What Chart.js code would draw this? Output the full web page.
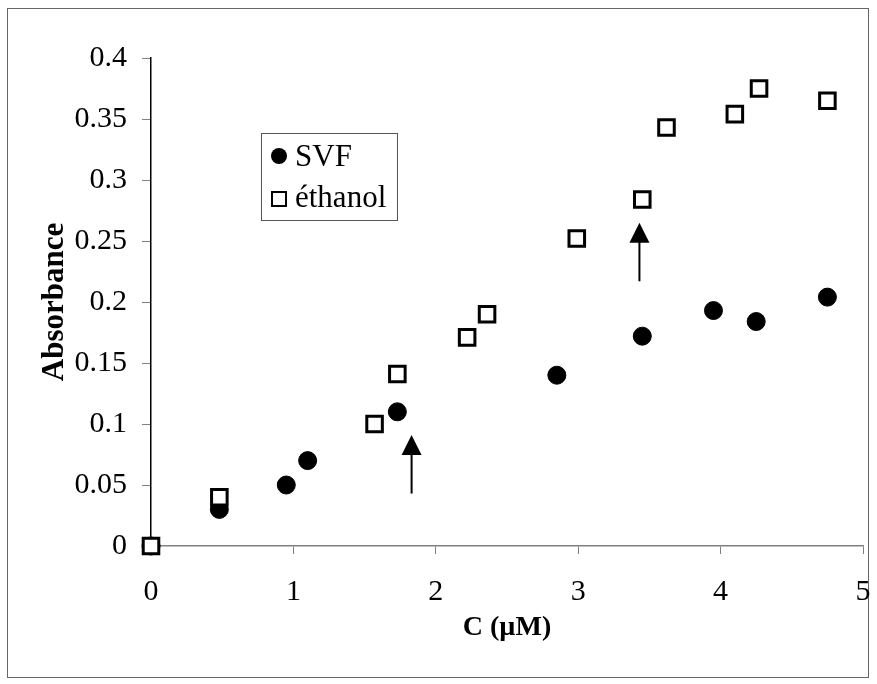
<!DOCTYPE html>
<html>
<head>
<meta charset="utf-8">
<script src="https://cdn.jsdelivr.net/npm/chart.js@4"></script>
<style>
  body { margin: 0; background: #fff; }
</style>
</head>
<body>
<canvas id="chart" width="877" height="684"></canvas>
<script>
// SVF (filled circles)
var svfX = [0, 0.48, 0.95, 1.1, 1.73, 2.85, 3.45, 3.95, 4.25, 4.75];
var svfY = [0, 0.03, 0.05, 0.07, 0.11, 0.14, 0.172, 0.193, 0.184, 0.204];
// ethanol (open squares)
var ethX = [0, 0.48, 1.57, 1.73, 2.22, 2.36, 2.99, 3.45, 3.62, 4.1, 4.27, 4.75];
var ethY = [0, 0.04, 0.1, 0.141, 0.171, 0.19, 0.252, 0.284, 0.343, 0.354, 0.375, 0.365];

var xTicks = ['0', '1', '2', '3', '4', '5'];
var yTicks = ['0', '0.05', '0.1', '0.15', '0.2', '0.25', '0.3', '0.35', '0.4'];

// arrows: x position, tail y, tip y
var arrowX = [1.83, 3.43];
var arrowFrom = [0.043, 0.217];
var arrowTo = [0.091, 0.265];

var legendNames = ['SVF', 'éthanol'];

function toPoints(xs, ys) {
  return xs.map(function (x, i) { return { x: x, y: ys[i] }; });
}

var serif = '"Liberation Serif", "Times New Roman", serif';

// frame round the whole picture
var framePlugin = {
  id: 'frame',
  beforeDraw: function (chart) {
    var c = chart.ctx;
    c.save();
    c.fillStyle = '#fff';
    c.fillRect(0, 0, chart.width, chart.height);
    c.strokeStyle = '#666';
    c.lineWidth = 1;
    c.strokeRect(7.5, 8.5, chart.width - 16, chart.height - 15);
    c.restore();
  }
};

var arrowPlugin = {
  id: 'arrows',
  afterDatasetsDraw: function (chart) {
    var c = chart.ctx, xs = chart.scales.x, ys = chart.scales.y;
    c.save();
    c.strokeStyle = '#000';
    c.fillStyle = '#000';
    c.lineWidth = 2;
    for (var i = 0; i < arrowX.length; i++) {
      var px = xs.getPixelForValue(arrowX[i]);
      var y0 = ys.getPixelForValue(arrowFrom[i]);
      var y1 = ys.getPixelForValue(arrowTo[i]);
      c.beginPath();
      c.moveTo(px, y0);
      c.lineTo(px, y1 + 18);
      c.stroke();
      c.beginPath();
      c.moveTo(px, y1);
      c.lineTo(px - 10, y1 + 20);
      c.lineTo(px + 10, y1 + 20);
      c.closePath();
      c.fill();
    }
    c.restore();
  }
};

var legendPlugin = {
  id: 'boxLegend',
  afterDraw: function (chart) {
    var c = chart.ctx, a = chart.chartArea;
    var bx = a.left + 110, by = a.top + 75;
    c.save();
    c.strokeStyle = '#555';
    c.lineWidth = 1;
    c.strokeRect(bx + 0.5, by + 0.5, 136, 87);
    c.font = '31px ' + serif;
    c.textBaseline = 'middle';
    c.fillStyle = '#000';
    // circle
    c.beginPath();
    c.arc(bx + 18, by + 23, 8, 0, Math.PI * 2);
    c.fill();
    c.fillText(legendNames[0], bx + 34, by + 25);
    // square
    c.lineWidth = 2;
    c.strokeStyle = '#000';
    c.strokeRect(bx + 11, by + 59, 14, 14);
    c.fillText(legendNames[1], bx + 34, by + 66);
    c.restore();
  }
};

var ctx = document.getElementById('chart').getContext('2d');

var myChart = new Chart(ctx, {
  type: 'scatter',
  data: {
    datasets: [{
      label: legendNames[0],
      data: toPoints(svfX, svfY),
      pointStyle: 'circle',
      pointRadius: 9,
      pointHoverRadius: 9,
      backgroundColor: '#000',
      borderColor: '#000',
      borderWidth: 1,
      clip: false,
      order: 1
    },
    {
      label: legendNames[1],
      data: toPoints(ethX, ethY),
      pointStyle: 'rect',
      pointRadius: 11,
      pointHoverRadius: 11,
      backgroundColor: '#fff',
      borderColor: '#000',
      borderWidth: 3,
      clip: false,
      order: 0
    }]
  },
  options: {
    responsive: false,
    animation: false,
    events: [],
    layout: { padding: { left: 10, top: 58, right: 11, bottom: 10 } },
    plugins: {
      legend: { display: false },
      tooltip: { enabled: false }
    },
    scales: {
      x: {
        type: 'linear',
        min: 0,
        max: 5,
        afterFit: function (s) {
          s.height = 128;
          s.paddingLeft = 0;
          s.paddingRight = 0;
        },
        ticks: {
          stepSize: 1,
          padding: 20,
          color: '#000',
          font: { family: serif, size: 30 },
          callback: function (v, i) { return xTicks[i]; }
        },
        grid: { drawOnChartArea: false, drawTicks: true, tickLength: 8, color: '#808080' },
        border: { color: '#808080', width: 1.5 },
        title: {
          display: true,
          text: 'C (µM)',
          color: '#000',
          font: { family: serif, size: 28, weight: 'bold' },
          padding: { top: 0, bottom: 29 }
        }
      },
      y: {
        type: 'linear',
        min: 0,
        max: 0.4,
        afterFit: function (s) { s.width = 141; },
        ticks: {
          stepSize: 0.05,
          padding: 15,
          color: '#000',
          font: { family: serif, size: 30 },
          callback: function (v, i) { return yTicks[i]; }
        },
        grid: { drawOnChartArea: false, drawTicks: true, tickLength: 9, color: '#808080' },
        border: { color: '#000', width: 1.5 },
        title: {
          display: true,
          text: 'Absorbance',
          color: '#000',
          font: { family: serif, size: 31, weight: 'bold' },
          padding: { top: 26, bottom: 0 }
        }
      }
    }
  },
  plugins: [framePlugin, arrowPlugin, legendPlugin]
});
</script>
</body>
</html>
